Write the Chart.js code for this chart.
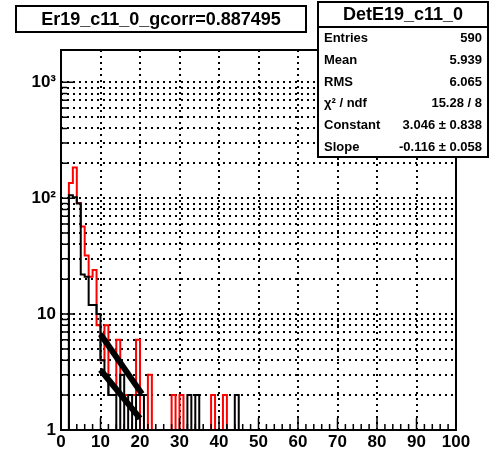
<!DOCTYPE html>
<html>
<head>
<meta charset="utf-8">
<script src="https://cdn.jsdelivr.net/npm/chart.js@4.4.1/dist/chart.umd.min.js"></script>
<style>
  html, body { margin: 0; padding: 0; background: #fff; }
</style>
</head>
<body>
<canvas id="chart" width="491" height="455"></canvas>
<script>
// counts per bin, bin i covers [i, i+1), bins past the end are empty
const blackCounts = [0, 0, 106, 102, 90, 22, 21, 12, 12, 10, 4, 3, 2, 2, 1, 3, 1, 2, 1, 2, 2, 0,
    0, 0, 0, 0, 0, 0, 0, 0, 0, 0, 2, 0, 2, 0, 0, 0, 0, 0, 0, 0, 0, 0, 2];
const redCounts = [0, 0, 135, 184, 91, 57, 32, 21, 24, 8, 4, 8, 2, 2, 6, 2, 2, 2, 2, 6, 0, 0, 3,
    0, 0, 0, 0, 0, 2, 0, 2, 0, 0, 0, 0, 0, 0, 0, 2, 0, 0, 2];

// the two fitted exponentials (straight on log axis)
const fitUpperX = [10, 20.5];
const fitUpperY = [6.7, 2.05];
const fitLowerX = [10, 20];
const fitLowerY = [3.3, 1.26];

const xMin = 0, xMax = 100;
const yMin = 1, yMax = 1900;
const yGridValues = [1, 2, 3, 4, 5, 6, 7, 8, 9, 10, 20, 30, 40, 50, 60, 70, 80, 90,
    100, 200, 300, 400, 500, 600, 700, 800, 900, 1000];
const yLabelValues = [1, 10, 100, 1000];
const yLabelTexts = ['1', '10', '10²', '10³'];

const titleText = 'Er19_c11_0_gcorr=0.887495';
const statsTitle = 'DetE19_c11_0';
const statsNames = ['Entries', 'Mean', 'RMS', 'χ² / ndf', 'Constant', 'Slope'];
const statsValues = ['590', '5.939', '6.065', '15.28 / 8', '3.046 ± 0.838', '-0.116 ± 0.058'];

const FONT = '"Liberation Sans", Arial, Helvetica, sans-serif';

function histPoints(counts) {
    const pts = counts.map((c, i) => ({ x: i, y: c > 0 ? c : yMin }));
    pts.push({ x: counts.length, y: yMin });
    pts.push({ x: xMax, y: yMin });
    return pts;
}

const rootDecor = {
    id: 'rootDecor',
    afterDatasetsDraw(chart) {
        const { ctx, chartArea: a, scales: { x, y } } = chart;
        ctx.save();
        ctx.strokeStyle = '#000';
        ctx.lineWidth = 1.5;
        ctx.beginPath();
        for (let v = xMin; v <= xMax; v += 2) {
            const px = x.getPixelForValue(v);
            const len = v % 10 === 0 ? 12 : 6;
            ctx.moveTo(px, a.bottom);
            ctx.lineTo(px, a.bottom - len);
        }
        yGridValues.forEach(v => {
            const py = y.getPixelForValue(v);
            const len = yLabelValues.includes(v) ? 12 : 6;
            ctx.moveTo(a.left, py);
            ctx.lineTo(a.left + len, py);
        });
        ctx.stroke();

        ctx.lineWidth = 2;
        ctx.strokeRect(a.left, a.top, a.right - a.left, a.bottom - a.top);

        // title box
        ctx.fillStyle = '#fff';
        ctx.fillRect(16, 6, 290, 26);
        ctx.strokeRect(16, 6, 290, 26);
        ctx.fillStyle = '#000';
        ctx.font = 'bold 18px ' + FONT;
        ctx.textAlign = 'center';
        ctx.textBaseline = 'middle';
        ctx.fillText(titleText, 161, 20);

        // stats box
        const bx = 318, by = 2, bw = 170, bh = 155, head = 25;
        ctx.fillStyle = '#fff';
        ctx.fillRect(bx, by, bw, bh);
        ctx.strokeRect(bx, by, bw, bh);
        ctx.beginPath();
        ctx.moveTo(bx, by + head);
        ctx.lineTo(bx + bw, by + head);
        ctx.stroke();
        ctx.fillStyle = '#000';
        ctx.fillText(statsTitle, bx + bw / 2, by + 13);
        ctx.font = 'bold 13px ' + FONT;
        const rowH = (bh - head) / statsNames.length;
        statsNames.forEach((n, i) => {
            const ry = by + head + rowH * (i + 0.5) + 1;
            ctx.textAlign = 'left';
            ctx.fillText(n, bx + 6, ry);
            ctx.textAlign = 'right';
            ctx.fillText(statsValues[i], bx + bw - 6, ry);
        });
        ctx.restore();
    }
};

const lineStyle = { pointRadius: 0, fill: false, tension: 0 };

new Chart(document.getElementById('chart'), {
    type: 'line',
    data: {
        datasets: [
            { ...lineStyle, data: fitUpperX.map((v, i) => ({ x: v, y: fitUpperY[i] })), borderColor: '#000', borderWidth: 6, borderCapStyle: 'butt' },
            { ...lineStyle, data: fitLowerX.map((v, i) => ({ x: v, y: fitLowerY[i] })), borderColor: '#000', borderWidth: 6, borderCapStyle: 'butt' },
            { ...lineStyle, data: histPoints(blackCounts), borderColor: '#000', borderWidth: 2, stepped: true },
            { ...lineStyle, data: histPoints(redCounts), borderColor: '#ff0000', borderWidth: 2, stepped: true }
        ]
    },
    options: {
        responsive: false,
        animation: false,
        layout: { padding: { top: 50, right: 35, left: 0, bottom: 0 } },
        plugins: { legend: { display: false }, tooltip: { enabled: false } },
        scales: {
            x: {
                type: 'linear',
                min: xMin,
                max: xMax,
                afterFit: s => { s.height = 25; },
                border: { display: false, dash: [2, 4] },
                grid: { color: '#000', lineWidth: 2, drawTicks: false },
                ticks: { stepSize: 10, color: '#000', padding: 2, maxRotation: 0, autoSkip: false,
                    font: { family: FONT, size: 17, weight: 'bold' } }
            },
            y: {
                type: 'logarithmic',
                min: yMin,
                max: yMax,
                afterFit: s => { s.width = 61; },
                afterBuildTicks: s => { s.ticks = yGridValues.map(v => ({ value: v })); },
                border: { display: false, dash: [2, 4] },
                grid: { color: '#000', lineWidth: 2, drawTicks: false },
                ticks: {
                    color: '#000', padding: 5, autoSkip: false,
                    font: { family: FONT, size: 17, weight: 'bold' },
                    callback: v => {
                        const k = yLabelValues.indexOf(v);
                        return k >= 0 ? yLabelTexts[k] : '';
                    }
                }
            }
        }
    },
    plugins: [rootDecor]
});
</script>
</body>
</html>
